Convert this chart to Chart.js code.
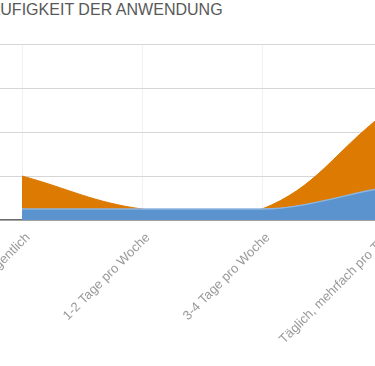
<!DOCTYPE html>
<html lang="de">
<head>
<meta charset="utf-8">
<title>Häufigkeit der Anwendung</title>
<script src="https://cdn.jsdelivr.net/npm/chart.js@4.4.0/dist/chart.umd.min.js"></script>
<style>
  html, body { margin: 0; padding: 0; background: #fff; overflow: hidden; }
  body { position: relative; width: 375px; height: 366px; }
  #title {
    position: absolute; left: -22px; top: 0;
    font-family: "Liberation Sans", Arial, sans-serif; font-size: 16px; line-height: 19px;
    color: #585858; white-space: nowrap;
  }
  #chartBox { position: absolute; left: -160px; top: 0; width: 612px; height: 366px; }
</style>
</head>
<body>
<div id="title">HÄ<span id="titleRest">UFIGKEIT DER ANWENDUNG</span></div>
<div id="chartBox"><canvas id="usageChart"></canvas></div>
<script>
// Kategorien und Werte (gestapelt)
const categories = ['Gelegentlich', '1-2 Tage pro Woche', '3-4 Tage pro Woche', 'Täglich, mehrfach pro Tag'];
const blueValues = [1, 1, 1, 2.9];
const orangeValues = [3, 0, 0, 6.6];
const yTicks = [0, 4, 8, 12, 16];

document.addEventListener('DOMContentLoaded', () => {
  placeTitle();
  drawUsageChart();
});

// Titel ist links abgeschnitten: "UFIGKEIT ..." beginnt am linken Rand und reicht bis ~223
function placeTitle() {
  const title = document.getElementById('title');
  const rest = document.getElementById('titleRest');
  const w = rest.getBoundingClientRect().width;
  if (w > 0) title.style.fontSize = (16 * 222.5 / w).toFixed(2) + 'px';
  title.style.left = (-rest.offsetLeft) + 'px';
}

function drawUsageChart() {
  const ctx = document.getElementById('usageChart').getContext('2d');

  new Chart(ctx, {
    type: 'line',
    data: {
      labels: categories,
      datasets: [
        {
          label: 'Blau',
          data: blueValues,
          backgroundColor: '#5b93cf',
          borderColor: '#8db5e0',
          borderWidth: 1.5,
          fill: 'origin',
          cubicInterpolationMode: 'monotone',
          pointRadius: 0
        },
        {
          label: 'Orange',
          data: orangeValues,
          backgroundColor: '#dc7a02',
          borderColor: '#dc7a02',
          borderWidth: 1,
          fill: '-1',
          tension: 0.4,
          pointRadius: 0
        }
      ]
    },
    options: {
      responsive: true,
      maintainAspectRatio: false,
      animation: false,
      layout: { padding: { left: 120, right: 10, top: 44, bottom: 0 } },
      plugins: {
        legend: { display: false },
        tooltip: { enabled: false }
      },
      scales: {
        x: {
          offset: true,
          grid: { offset: false, color: '#f1f1f1', drawTicks: false },
          border: { color: '#6e6e6e', width: 1.5 },
          ticks: {
            minRotation: 45,
            maxRotation: 45,
            autoSkip: false,
            padding: 10,
            labelOffset: 6,
            color: '#9a9a9a',
            font: { family: '"Liberation Sans", Arial, sans-serif', size: 13 }
          },
          afterFit: (scale) => { scale.height = 146; }
        },
        y: {
          stacked: true,
          min: yTicks[0],
          max: yTicks[yTicks.length - 1],
          afterBuildTicks: (scale) => { scale.ticks = yTicks.map(v => ({ value: v })); },
          grid: { color: '#d6d6d6', drawTicks: false },
          border: { display: false },
          ticks: { display: false },
          afterFit: (scale) => { scale.width = 2; }
        }
      }
    }
  });
}
</script>
</body>
</html>
